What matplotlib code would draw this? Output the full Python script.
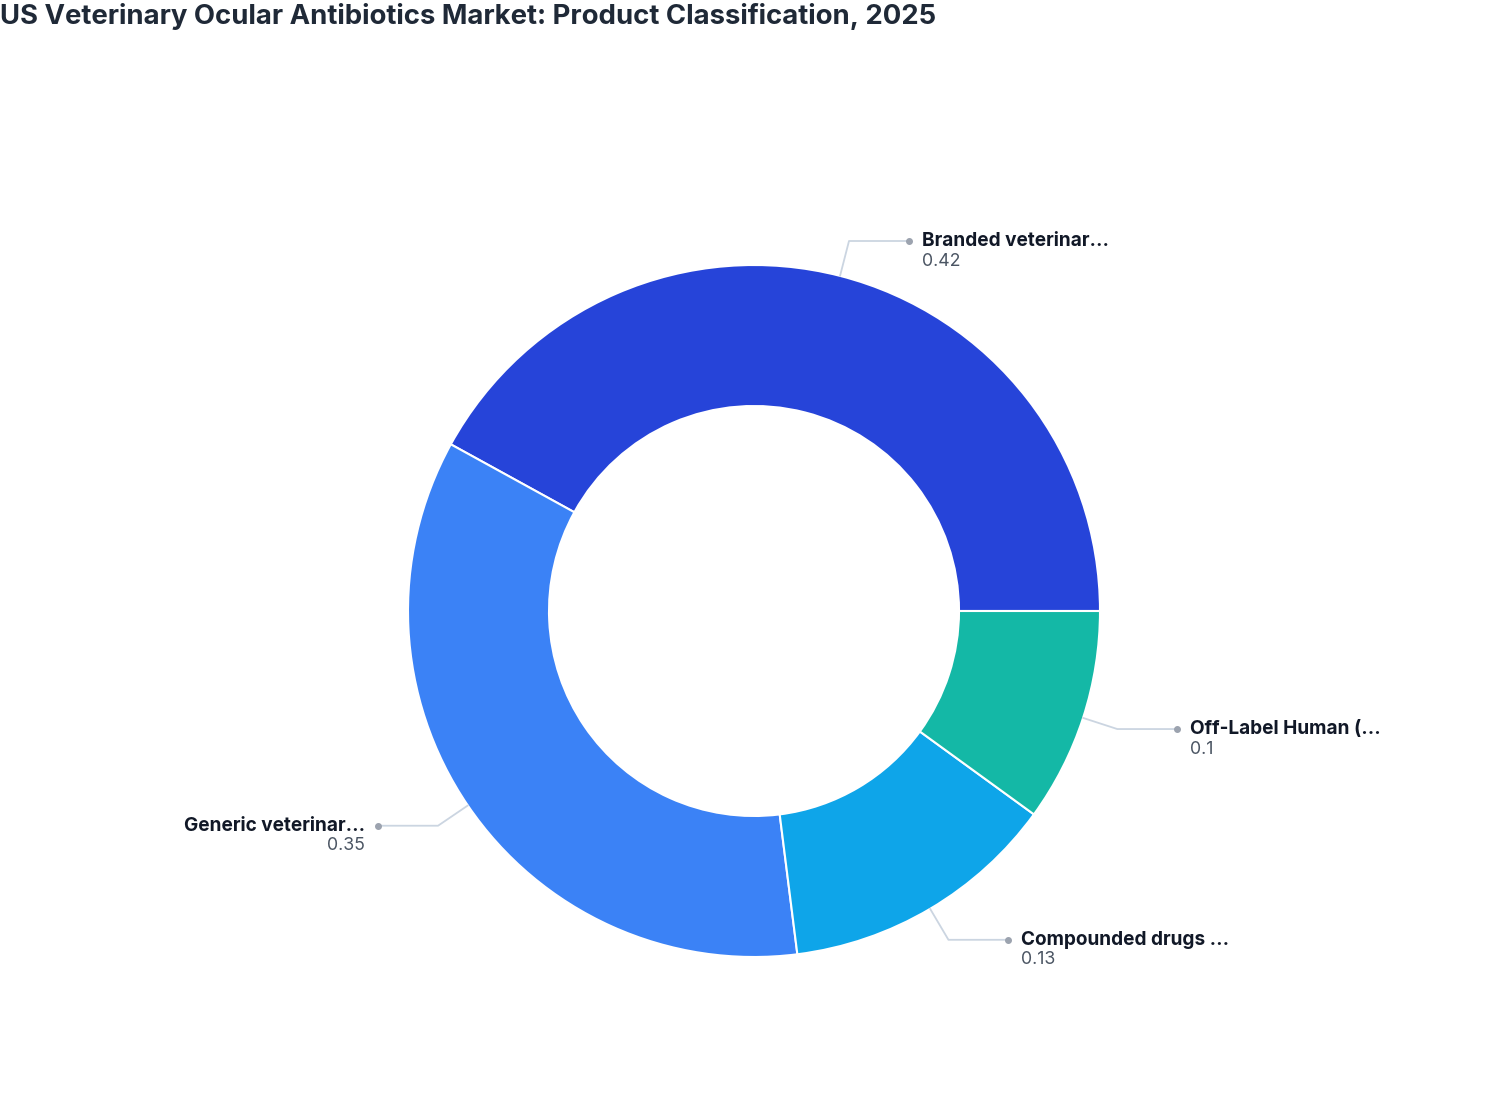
import matplotlib
matplotlib.use("Agg")
import matplotlib.pyplot as plt
import numpy as np

plt.rcParams['font.family'] = ['Inter', 'DejaVu Sans']

title = "US Veterinary Ocular Antibiotics Market: Product Classification, 2025"
categories = ["Branded veterinar...", "Generic veterinar...", "Compounded drugs ...", "Off-Label Human (..."]
values = [0.42, 0.35, 0.13, 0.10]
value_labels = ["0.42", "0.35", "0.13", "0.1"]
colors = ["#2644D9", "#3B82F6", "#0EA5E9", "#14B8A6"]

W, H = 1508, 1120
fig = plt.figure(figsize=(W / 100, H / 100), dpi=100)
ax = fig.add_axes([0, 0, 1, 1])

cx, cy = 754, H - 611
R = 346
ring = 141
wedges, _ = ax.pie(values, colors=colors, startangle=0, counterclock=True,
                   radius=R, center=(cx, cy), frame=True,
                   wedgeprops=dict(width=ring, edgecolor='white', linewidth=1.5))
ax.set_xlim(0, W)
ax.set_ylim(0, H)
ax.set_aspect('equal')
ax.axis('off')

for w, name, val in zip(wedges, categories, value_labels):
    th = np.deg2rad((w.theta1 + w.theta2) / 2)
    c, s = np.cos(th), np.sin(th)
    x0, y0 = cx + R * c, cy + R * s
    x1, y1 = cx + 382 * c, cy + 382 * s
    side = 1 if c >= 0 else -1
    x2 = x1 + side * 60
    ax.plot([x0, x1, x2], [y0, y1, y1], color="#cbd5e1", lw=1.3, zorder=1, solid_capstyle='round')
    ax.plot([x2], [y1], 'o', color="#9ca3af", ms=4, zorder=2)
    ha = 'left' if side > 0 else 'right'
    tx = x2 + side * 13
    ax.text(tx, y1, name, ha=ha, va='center', fontsize=13.7, fontweight='bold', color="#111827")
    ax.text(tx, y1 - 20, val, ha=ha, va='center', fontsize=12.8, color="#4b5563")

fig.text(0.0, 1 - 17 / H, title, ha='left', va='center', fontsize=19.8, fontweight='bold', color="#1f2937")

fig.savefig("out.png", dpi=100)
